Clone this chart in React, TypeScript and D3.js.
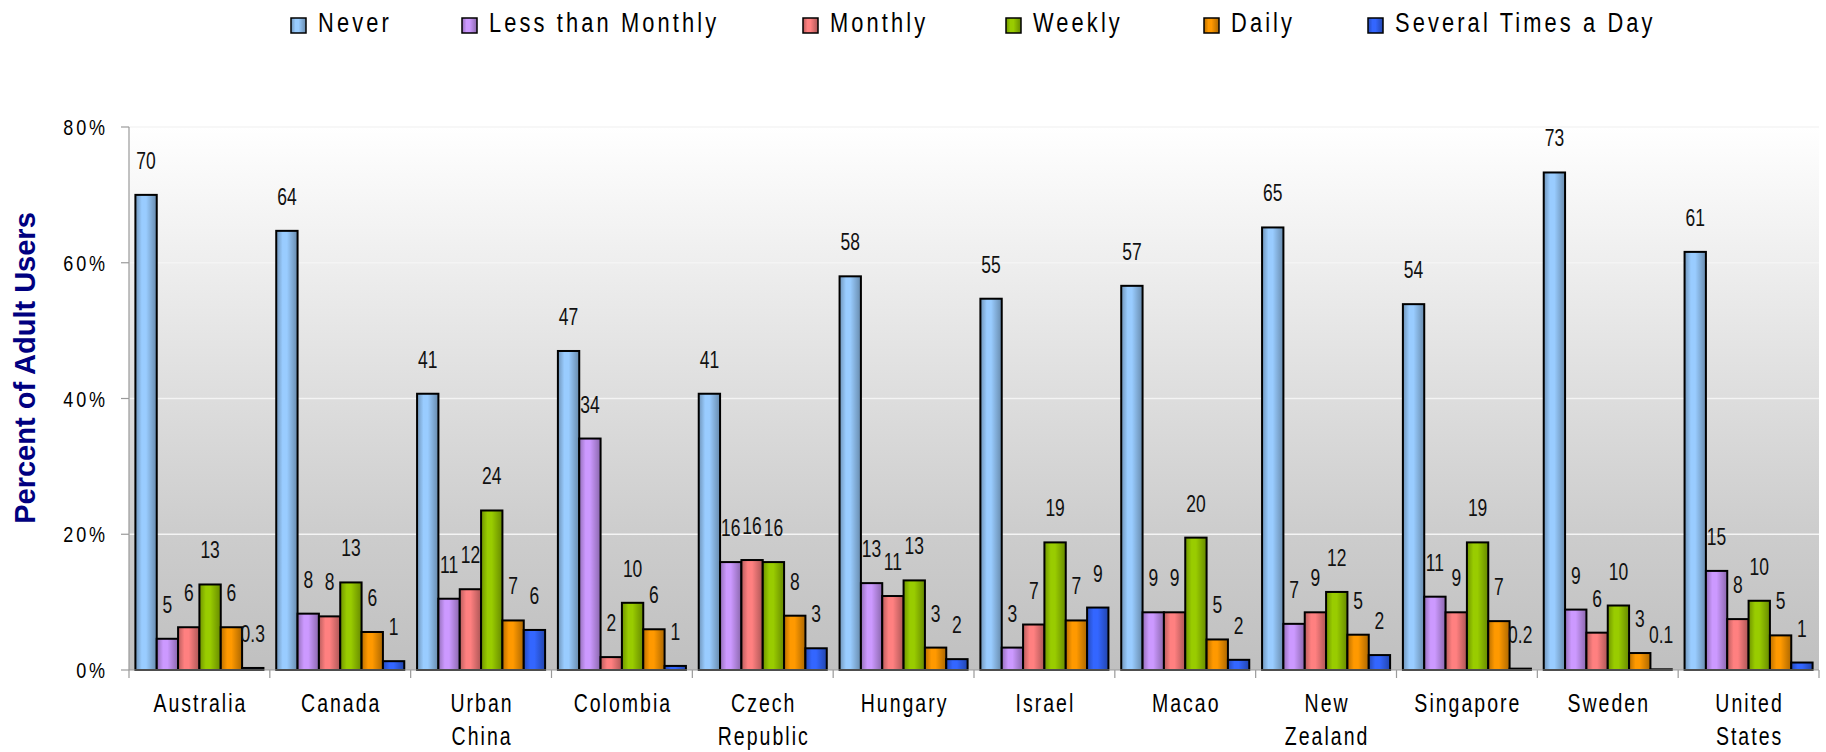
import React from "react";
import * as d3 from "d3";

// ---------- DATA ----------
const categories = ["Australia", "Canada", "Urban China", "Colombia", "Czech Republic", "Hungary", "Israel", "Macao", "New Zealand", "Singapore", "Sweden", "United States"];
const categoryLines = [["Australia"], ["Canada"], ["Urban", "China"], ["Colombia"], ["Czech", "Republic"], ["Hungary"], ["Israel"], ["Macao"], ["New", "Zealand"], ["Singapore"], ["Sweden"], ["United", "States"]];

const seriesNames = ["Never", "Less than Monthly", "Monthly", "Weekly", "Daily", "Several Times a Day"];

const never = [70.0, 64.7, 40.7, 47.0, 40.7, 58.0, 54.7, 56.6, 65.2, 53.9, 73.3, 61.6];
const lessThanMonthly = [4.6, 8.3, 10.5, 34.1, 15.9, 12.8, 3.3, 8.5, 6.8, 10.8, 8.9, 14.6];
const monthly = [6.3, 7.9, 11.9, 1.9, 16.2, 10.9, 6.7, 8.5, 8.5, 8.5, 5.5, 7.5];
const weekly = [12.6, 12.9, 23.5, 9.9, 15.9, 13.2, 18.8, 19.5, 11.5, 18.8, 9.5, 10.2];
const daily = [6.3, 5.6, 7.3, 6.0, 8.0, 3.3, 7.3, 4.5, 5.2, 7.2, 2.5, 5.1];
const severalTimes = [0.3, 1.3, 5.9, 0.6, 3.2, 1.6, 9.2, 1.5, 2.2, 0.2, 0.1, 1.1];

const neverLabels = ["70", "64", "41", "47", "41", "58", "55", "57", "65", "54", "73", "61"];
const lessThanMonthlyLabels = ["5", "8", "11", "34", "16", "13", "3", "9", "7", "11", "9", "15"];
const monthlyLabels = ["6", "8", "12", "2", "16", "11", "7", "9", "9", "9", "6", "8"];
const weeklyLabels = ["13", "13", "24", "10", "16", "13", "19", "20", "12", "19", "10", "10"];
const dailyLabels = ["6", "6", "7", "6", "8", "3", "7", "5", "5", "7", "3", "5"];
const severalTimesLabels = ["0.3", "1", "6", "1", "3", "2", "9", "2", "2", "0.2", "0.1", "1"];

const yTicks = [0, 20, 40, 60, 80];

// ---------- STYLE / LAYOUT ----------
const seriesValues = [never, lessThanMonthly, monthly, weekly, daily, severalTimes];
const seriesLabels = [neverLabels, lessThanMonthlyLabels, monthlyLabels, weeklyLabels, dailyLabels, severalTimesLabels];
const colors = ["#99CCFF", "#CC99FF", "#FF8080", "#99CC00", "#FF9900", "#3366FF"];
const legendX = [291, 462, 803, 1006, 1204, 1368];

const W = 1826;
const H = 752;
const PL = 129, PR = 1819, PT = 127, PB = 670;
const FONT = "'Liberation Sans', Arial, sans-serif";

function NText(props: { x: number; y: number; size: number; sx?: number; ls?: number; anchor?: string; fill?: string; children: React.ReactNode }) {
  const { x, y, size, sx = 0.8, ls = 0, anchor = "start", fill = "#000", children } = props;
  return (
    <text
      transform={`translate(${x},${y}) scale(${sx},1)`}
      textAnchor={anchor}
      fontFamily={FONT}
      fontSize={size}
      letterSpacing={ls}
      fill={fill}
    >
      {children}
    </text>
  );
}

export default function App() {
  const x0 = d3.scaleBand<string>().domain(categories).range([PL, PR]).padding(0);
  const x1 = d3.scaleBand<string>().domain(seriesNames).range([0, x0.bandwidth()]).paddingInner(0).paddingOuter(0.3);
  const y = d3.scaleLinear().domain([0, 80]).range([PB, PT]);

  const shade = (c: string, k: number) => d3.color(c)!.darker(k).formatHex();

  return (
    <svg width={W} height={H} style={{ position: "absolute", left: 0, top: 0, display: "block", background: "#fff" }}>
      <defs>
        <linearGradient id="bg" x1="0" y1="0" x2="0" y2="1">
          <stop offset="0" stopColor="#ffffff" />
          <stop offset="0.74" stopColor="#cdcdcd" />
          <stop offset="1" stopColor="#c0c0c0" />
        </linearGradient>
        {colors.map((c, i) => (
          <linearGradient key={i} id={`g${i}`} x1="0" y1="0" x2="1" y2="0">
            <stop offset="0" stopColor={shade(c, 0.9)} />
            <stop offset="0.3" stopColor={c} />
            <stop offset="0.5" stopColor={c} />
            <stop offset="1" stopColor={shade(c, 1.1)} />
          </linearGradient>
        ))}
      </defs>

      {/* plot background */}
      <rect x={PL} y={PT} width={PR - PL} height={PB - PT} fill="url(#bg)" />
      {yTicks.filter((t) => t > 0).map((t) => (
        <line key={t} x1={PL} x2={PR} y1={y(t)} y2={y(t)} stroke="#f4f4f4" strokeWidth={1.5} />
      ))}

      {/* bars */}
      {categories.map((cat, ci) => (
        <g key={cat} transform={`translate(${x0(cat)},0)`}>
          {seriesNames.map((s, si) => {
            const v = seriesValues[si][ci];
            return (
              <rect
                key={s}
                x={x1(s)}
                y={y(v)}
                width={x1.bandwidth()}
                height={Math.max(0, y(0) - y(v))}
                fill={`url(#g${si})`}
                stroke="#000"
                strokeWidth={2}
              />
            );
          })}
          {seriesNames.map((s, si) => {
            const v = seriesValues[si][ci];
            return (
              <NText
                key={s + "l"}
                x={(x1(s) as number) + x1.bandwidth() / 2}
                y={y(v) - 26}
                anchor="middle"
                size={23}
                sx={0.76}
                fill="#111"
              >
                {seriesLabels[si][ci]}
              </NText>
            );
          })}
        </g>
      ))}

      {/* axes */}
      <line x1={PL} x2={PL} y1={PT} y2={PB} stroke="#9a9a9a" strokeWidth={1.2} />
      <line x1={PL} x2={PR} y1={PB} y2={PB} stroke="#9a9a9a" strokeWidth={1.2} />
      {yTicks.map((t) => (
        <g key={t}>
          <line x1={PL - 8} x2={PL} y1={y(t)} y2={y(t)} stroke="#9a9a9a" strokeWidth={1.2} />
          <NText x={108} y={y(t) + 8} anchor="end" size={22} sx={0.82} ls={3.5}>
            {t}%
          </NText>
        </g>
      ))}
      {categories.map((cat) => (
        <line key={cat} x1={x0(cat)} x2={x0(cat)} y1={PB} y2={PB + 8} stroke="#9a9a9a" strokeWidth={1.2} />
      ))}
      <line x1={PR} x2={PR} y1={PB} y2={PB + 8} stroke="#9a9a9a" strokeWidth={1.2} />

      {categories.map((cat, ci) =>
        categoryLines[ci].map((ln, li) => (
          <NText
            key={cat + li}
            x={(x0(cat) as number) + x0.bandwidth() / 2 + 1}
            y={712 + li * 33}
            anchor="middle"
            size={25}
            sx={0.78}
            ls={2.6}
          >
            {ln}
          </NText>
        ))
      )}

      {/* y axis title */}
      <text
        transform={`translate(35,368) rotate(-90)`}
        textAnchor="middle"
        fontFamily={FONT}
        fontWeight="bold"
        fontSize={29}
        fill="#000080"
      >
        Percent of Adult Users
      </text>

      {/* legend */}
      {seriesNames.map((s, si) => (
        <g key={s} transform={`translate(${legendX[si]},0)`}>
          <rect x={0} y={18} width={15} height={15} fill={`url(#g${si})`} stroke="#000" strokeWidth={1.5} />
          <NText x={27} y={32} size={28} sx={0.78} ls={4}>
            {s}
          </NText>
        </g>
      ))}
    </svg>
  );
}
